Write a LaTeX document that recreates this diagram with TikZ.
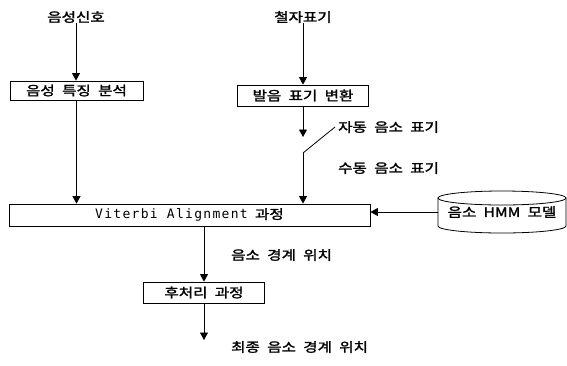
\documentclass[tikz,border=0pt]{standalone}
\usepackage{fontspec}
\newfontfamily\krfont[FakeStretch=1.2,WordSpace=2.1,FakeBold=1.8]{Noto Sans CJK KR}
\newfontfamily\vitfont[LetterSpace=10]{DejaVu Sans Mono}
\usetikzlibrary{positioning,arrows.meta}

\begin{document}
\begin{tikzpicture}[x=1pt,y=-1pt,
    proc/.style={draw, line width=0.8pt, inner sep=0pt,
      font=\krfont\fontsize{13}{15}\selectfont},
    tag/.style={inner sep=0pt, font=\krfont\fontsize{13}{15}\selectfont},
    flow/.style={line width=0.8pt, -{Triangle[width=8pt,length=7.5pt]}}]
  \useasboundingbox (0,0) rectangle (567,365);

  % left branch
  \node[tag] (Signal) at (76,17) {음성신호};
  \node[proc, minimum width=133pt, minimum height=19pt] (Feature) at (76.5,90.5) {음성 특징 분석};

  % right branch
  \node[tag] (Spelling) at (303,17) {철자표기};
  \node[proc, minimum width=131pt, minimum height=21pt] (Pron) at (303,95.5) {발음 표기 변환};
  \coordinate (AutoEnd) at (303,137);
  \coordinate (Pivot) at (303,153);
  \coordinate (Blade) at (335,127);
  \node[tag, anchor=west] (AutoText) at (338,127) {자동 음소 표기};
  \node[tag, anchor=west] (ManualText) at (338,168) {수동 음소 표기};

  % alignment
  \node[proc, minimum width=361pt, minimum height=22pt] (Viterbi) at (189.5,215)
    {{\vitfont\fontsize{13}{14}\selectfont Viterbi Alignment} 과정};
  \node[tag, minimum width=128pt, minimum height=36pt] (HMM) at (502,212) {음소 HMM 모델};
  \draw[line width=0.8pt] (438,198) -- (438,226) arc[start angle=180, end angle=360, x radius=64pt, y radius=7pt]
    -- (566,198);
  \draw[line width=0.8pt] (502,198) ellipse[x radius=64pt, y radius=7pt];

  % output
  \node[tag, anchor=west] (Boundary) at (231,255) {음소 경계 위치};
  \node[proc, minimum width=121pt, minimum height=21pt] (Post) at (204,292.5) {후처리 과정};
  \coordinate (FinalEnd) at (204,340);
  \node[tag, anchor=west] (Final) at (231,347) {최종 음소 경계 위치};

  \draw[flow] (Signal.south) -- (Signal.south |- Feature.north);
  \draw[flow] (Feature.south) -- (Feature.south |- Viterbi.north);
  \draw[flow] (Spelling.south) -- (Pron.north);
  \draw[flow] (Pron.south) -- (AutoEnd);
  \draw[line width=0.8pt] (Blade) -- (Pivot);
  \draw[flow] (Pivot) -- (Pivot |- Viterbi.north);
  \draw[flow] (HMM.west) -- (HMM.west -| Viterbi.east);
  \draw[flow] (Post.north |- Viterbi.south) -- (Post.north);
  \draw[flow] (Post.south) -- (FinalEnd);
\end{tikzpicture}
\end{document}
